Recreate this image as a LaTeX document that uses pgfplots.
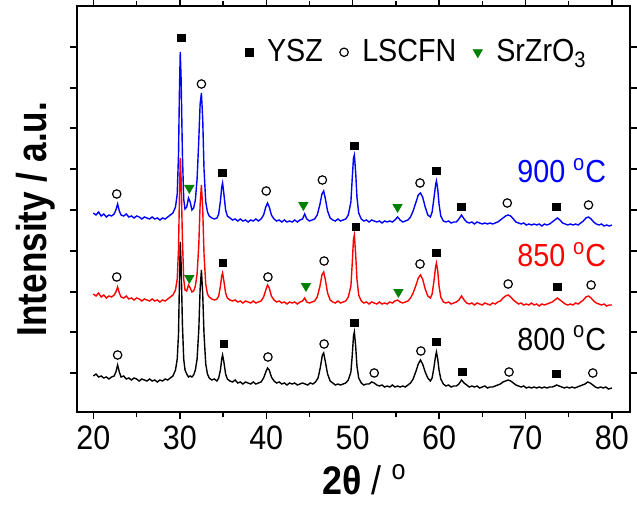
\documentclass[border=0pt]{standalone}
\usepackage{fontspec}
\setmainfont[FakeStretch=0.9]{Liberation Sans}
\newfontfamily\ylfont[FakeStretch=0.84]{Liberation Sans}
\usepackage{pgfplots}
\pgfplotsset{compat=1.18}
\definecolor{mygreen}{RGB}{0,128,0}
\begin{document}
\begin{tikzpicture}
\begin{axis}[
 width=276.5bp, height=203bp, scale only axis,
 xmin=18.1, xmax=82.1, ymin=2, ymax=408,
 xtick={20,30,...,80}, minor xtick={25,35,...,75},
 ytick={41,82,122,163,204,245,286,326,367}, yticklabels={},
 tick align=outside, major tick length=3.5bp, minor tick length=2.5bp,
 axis line style={line width=1bp},
 every tick/.style={black, line width=0.7bp},
 ticklabel style={font=\fontsize{17}{20}\selectfont},
 /pgf/number format/assume math mode=true,
 xlabel={\fontsize{20}{24}\selectfont\textbf{2θ} / \textsuperscript{o}},
 xlabel style={at={(axis description cs:0.52,0)}, anchor=base, yshift=-41bp},
 ylabel={\ylfont\fontsize{21}{24}\selectfont\bfseries Intensity / a.u.},
 ylabel style={at={(axis description cs:0,0.475)}, anchor=base, yshift=15bp},
 legend style={font=\fontsize{16}{19}\selectfont, draw=none, fill=none, legend columns=3,
   at={(0.304,0.886)}, anchor=west, inner sep=0pt,
   /tikz/every odd column/.append style={column sep=5bp},
   /tikz/every even column/.append style={column sep=6.5bp}},
 legend image code/.code={\draw[#1] plot coordinates {(0bp,0bp)};},
]
% 800 C
\addplot[black, line width=0.7bp, forget plot] coordinates {
(20.0,38)(20.3,40)(20.6,37)(20.9,38)(21.2,36)(21.5,37)(21.8,35)(22.1,37)(22.4,38)(22.6,42)(22.8,49)(23.0,42)(23.2,37)(23.5,38)(23.8,35)(24.1,36)(24.4,34)(24.7,36)(25.0,35)(25.3,33)(25.6,35)(25.9,34)(26.2,33)(26.5,35)(26.8,33)(27.1,34)(27.4,32)(27.7,34)(28.0,33)(28.3,35)(28.6,34)(28.9,36)(29.2,38)(29.5,44)(29.7,55)(29.85,80)(29.95,130)(30.05,172)(30.15,150)(30.3,90)(30.45,55)(30.6,44)(30.8,40)(31.0,37)(31.2,38)(31.4,37)(31.6,39)(31.8,44)(32.0,55)(32.2,85)(32.35,125)(32.5,144)(32.65,120)(32.8,80)(33.0,50)(33.2,40)(33.4,36)(33.7,34)(34.0,35)(34.3,33)(34.5,36)(34.7,44)(34.85,55)(34.95,59)(35.1,52)(35.3,40)(35.5,35)(35.8,33)(36.1,32)(36.4,34)(36.7,31)(37.0,32)(37.3,30)(37.6,32)(37.9,31)(38.2,30)(38.5,32)(38.8,30)(39.1,31)(39.4,32)(39.7,36)(39.95,42)(40.15,46)(40.35,44)(40.6,37)(40.9,33)(41.2,31)(41.5,32)(41.8,30)(42.1,31)(42.4,29)(42.7,31)(43.0,30)(43.3,31)(43.6,29)(43.9,30)(44.2,31)(44.5,30)(44.8,29)(45.1,31)(45.4,30)(45.7,32)(46.0,36)(46.25,46)(46.5,59)(46.65,61)(46.85,52)(47.1,40)(47.4,33)(47.7,31)(48.0,29)(48.3,30)(48.6,29)(48.9,30)(49.2,31)(49.5,34)(49.8,42)(49.95,58)(50.1,78)(50.2,82)(50.35,68)(50.5,48)(50.7,36)(51.0,31)(51.3,29)(51.6,30)(51.9,30)(52.2,32)(52.5,31)(52.8,29)(53.1,28)(53.4,29)(53.7,27)(54.0,28)(54.3,27)(54.6,29)(54.9,27)(55.2,28)(55.5,27)(55.8,28)(56.1,27)(56.4,29)(56.7,31)(57.0,35)(57.3,42)(57.6,50)(57.85,54)(58.1,50)(58.4,42)(58.7,36)(59.0,33)(59.2,36)(59.4,46)(59.6,58)(59.7,62)(59.85,55)(60.0,44)(60.2,35)(60.5,30)(60.8,28)(61.1,29)(61.4,27)(61.7,28)(62.0,28)(62.3,30)(62.6,34)(62.9,31)(63.2,29)(63.5,27)(63.8,28)(64.1,27)(64.4,28)(64.7,26)(65.0,27)(65.3,28)(65.6,26)(65.9,27)(66.2,27)(66.5,28)(66.8,29)(67.1,30)(67.4,32)(67.7,33)(68.0,34)(68.3,33)(68.6,31)(68.9,29)(69.2,28)(69.5,27)(69.8,28)(70.1,26)(70.4,27)(70.7,26)(71.0,27)(71.3,26)(71.6,27)(71.9,26)(72.2,27)(72.5,26)(72.8,27)(73.1,27)(73.4,28)(73.6,29)(73.9,28)(74.2,27)(74.5,26)(74.8,27)(75.1,26)(75.4,27)(75.7,26)(76.0,27)(76.3,28)(76.6,29)(76.9,30)(77.2,32)(77.5,31)(77.8,29)(78.1,27)(78.4,26)(78.7,27)(79.0,26)(79.3,27)(79.6,25)(80.0,26)
};
% 850 C
\addplot[red, line width=0.7bp, forget plot] coordinates {
(20.0,120)(20.3,118)(20.6,121)(20.9,117)(21.2,119)(21.5,116)(21.8,118)(22.1,117)(22.4,119)(22.6,122)(22.8,127)(23.0,121)(23.2,117)(23.5,116)(23.8,118)(24.1,115)(24.4,116)(24.7,114)(25.0,116)(25.3,115)(25.6,113)(25.9,115)(26.2,114)(26.5,113)(26.8,115)(27.1,113)(27.4,114)(27.7,112)(28.0,114)(28.3,113)(28.6,115)(28.9,117)(29.2,119)(29.5,124)(29.7,135)(29.85,165)(29.95,215)(30.05,256)(30.15,235)(30.3,175)(30.45,135)(30.6,124)(30.8,123)(31.0,129)(31.2,126)(31.4,122)(31.6,123)(31.8,128)(32.0,140)(32.2,170)(32.35,210)(32.5,229)(32.65,205)(32.8,160)(33.0,130)(33.2,120)(33.4,117)(33.7,115)(34.0,114)(34.3,115)(34.5,118)(34.7,128)(34.85,138)(34.95,141)(35.1,133)(35.3,121)(35.5,116)(35.8,114)(36.1,113)(36.4,114)(36.7,112)(37.0,113)(37.3,111)(37.6,113)(37.9,112)(38.2,111)(38.5,113)(38.8,111)(39.1,112)(39.4,113)(39.7,117)(39.95,124)(40.15,129)(40.35,126)(40.6,118)(40.9,114)(41.2,112)(41.5,113)(41.8,111)(42.1,112)(42.4,110)(42.7,112)(43.0,111)(43.3,112)(43.6,110)(43.9,112)(44.2,113)(44.45,116)(44.7,112)(45.0,111)(45.3,112)(45.6,113)(45.9,117)(46.2,127)(46.45,139)(46.65,142)(46.85,134)(47.1,121)(47.4,114)(47.7,112)(48.0,111)(48.3,113)(48.6,111)(48.9,112)(49.2,113)(49.5,117)(49.8,128)(49.95,150)(50.1,175)(50.2,179)(50.35,160)(50.5,135)(50.7,119)(51.0,113)(51.3,111)(51.6,112)(51.9,110)(52.2,112)(52.5,111)(52.8,110)(53.1,112)(53.4,110)(53.7,111)(54.0,110)(54.3,112)(54.6,111)(54.9,113)(55.2,114)(55.5,112)(55.8,111)(56.1,112)(56.4,113)(56.7,116)(57.0,121)(57.3,128)(57.6,136)(57.85,139)(58.1,135)(58.4,125)(58.7,118)(59.0,116)(59.2,120)(59.4,132)(59.6,147)(59.7,151)(59.85,143)(60.0,128)(60.2,117)(60.5,112)(60.8,111)(61.1,112)(61.4,110)(61.7,111)(62.0,112)(62.3,114)(62.6,118)(62.9,114)(63.2,111)(63.5,110)(63.8,111)(64.1,109)(64.4,111)(64.7,110)(65.0,109)(65.3,111)(65.6,110)(65.9,109)(66.2,111)(66.5,110)(66.8,112)(67.1,113)(67.4,116)(67.7,118)(68.0,119)(68.3,117)(68.6,114)(68.9,112)(69.2,110)(69.5,111)(69.8,109)(70.1,110)(70.4,109)(70.7,111)(71.0,109)(71.3,110)(71.6,108)(71.9,110)(72.2,109)(72.5,110)(72.8,111)(73.1,112)(73.4,114)(73.7,116)(74.0,114)(74.3,112)(74.6,110)(74.9,109)(75.2,110)(75.5,109)(75.8,111)(76.1,110)(76.4,112)(76.7,114)(77.0,117)(77.3,118)(77.6,116)(77.9,113)(78.2,111)(78.5,110)(78.8,109)(79.1,110)(79.4,108)(79.7,109)(80.0,109)
};
% 900 C
\addplot[blue, line width=0.7bp, forget plot] coordinates {
(20.0,201)(20.3,199)(20.6,202)(20.9,198)(21.2,200)(21.5,197)(21.8,199)(22.1,198)(22.4,200)(22.6,204)(22.8,210)(23.0,203)(23.2,199)(23.5,198)(23.8,200)(24.1,197)(24.4,198)(24.7,196)(25.0,198)(25.3,197)(25.6,195)(25.9,197)(26.2,196)(26.5,195)(26.8,197)(27.1,195)(27.4,196)(27.7,194)(28.0,196)(28.3,195)(28.6,197)(28.9,199)(29.2,201)(29.5,207)(29.7,220)(29.85,260)(29.95,320)(30.05,362)(30.15,335)(30.3,260)(30.45,215)(30.6,205)(30.8,207)(31.0,216)(31.2,212)(31.4,204)(31.6,206)(31.8,214)(32.0,235)(32.2,275)(32.35,310)(32.5,321)(32.65,295)(32.8,245)(33.0,212)(33.2,202)(33.4,198)(33.7,196)(34.0,195)(34.3,196)(34.5,200)(34.7,213)(34.85,227)(34.95,231)(35.1,220)(35.3,204)(35.5,198)(35.8,196)(36.1,194)(36.4,195)(36.7,193)(37.0,195)(37.3,193)(37.6,194)(37.9,192)(38.2,194)(38.5,193)(38.8,195)(39.1,193)(39.4,195)(39.7,199)(39.95,207)(40.15,211)(40.35,207)(40.6,199)(40.9,195)(41.2,193)(41.5,194)(41.8,192)(42.1,194)(42.4,192)(42.7,193)(43.0,192)(43.3,194)(43.6,192)(43.9,194)(44.2,195)(44.45,200)(44.7,195)(45.0,193)(45.3,194)(45.6,195)(45.9,199)(46.2,209)(46.45,220)(46.65,223)(46.85,215)(47.1,203)(47.4,196)(47.7,194)(48.0,193)(48.3,195)(48.6,193)(48.9,194)(49.2,195)(49.5,199)(49.8,212)(49.95,235)(50.1,256)(50.2,259)(50.35,242)(50.5,217)(50.7,201)(51.0,195)(51.3,193)(51.6,194)(51.9,192)(52.2,194)(52.5,193)(52.8,192)(53.1,193)(53.4,191)(53.7,193)(54.0,192)(54.3,193)(54.6,192)(54.9,194)(55.2,197)(55.5,194)(55.8,192)(56.1,193)(56.4,194)(56.7,197)(57.0,203)(57.3,211)(57.6,219)(57.85,221)(58.1,217)(58.4,207)(58.7,199)(59.0,197)(59.2,202)(59.4,215)(59.6,229)(59.7,233)(59.85,225)(60.0,210)(60.2,198)(60.5,193)(60.8,192)(61.1,193)(61.4,191)(61.7,192)(62.0,192)(62.3,195)(62.6,199)(62.9,195)(63.2,192)(63.5,191)(63.8,192)(64.1,190)(64.4,192)(64.7,191)(65.0,190)(65.3,191)(65.6,190)(65.9,191)(66.2,190)(66.5,191)(66.8,192)(67.1,194)(67.4,196)(67.7,198)(68.0,199)(68.3,198)(68.6,195)(68.9,192)(69.2,191)(69.5,190)(69.8,191)(70.1,189)(70.4,190)(70.7,189)(71.0,190)(71.3,189)(71.6,190)(71.9,188)(72.2,190)(72.5,189)(72.8,190)(73.1,192)(73.4,194)(73.7,196)(74.0,194)(74.3,191)(74.6,190)(74.9,189)(75.2,190)(75.5,189)(75.8,190)(76.1,189)(76.4,191)(76.7,193)(77.0,196)(77.3,197)(77.6,195)(77.9,192)(78.2,190)(78.5,189)(78.8,190)(79.1,188)(79.4,189)(79.7,188)(80.0,189)
};
% YSZ markers
\addplot[only marks, mark=square*, mark size=1.9bp, black] coordinates {
(30.15,376)(34.9,241)(50.2,268)(59.7,243)(62.6,207)(73.6,207)
(35.0,151)(50.4,187)(59.7,161)(73.7,127)
(35.1,70)(50.2,91)(59.7,72)(62.7,42)(73.6,40)
};
\addlegendentry{YSZ}
% LSCFN markers
\addplot[only marks, mark=o, mark size=2.1bp, black, mark options={line width=0.6bp}] coordinates {
(22.7,220)(32.5,330)(40.0,223)(46.5,234)(57.8,231)(67.9,211)(77.3,209)
(22.7,137)(40.2,137)(46.7,153)(57.8,150)(68.0,130)(77.6,129)
(22.8,59)(40.2,57)(46.7,70)(52.5,41)(57.9,63)(68.1,42)(77.8,41)
};
\addlegendentry{LSCFN}
% SrZrO3 markers
\addplot[only marks, mark=triangle*, mark size=2.6bp, mygreen, mark options={rotate=180}] coordinates {
(31.1,226)(44.3,209)(55.2,207)
(31.1,136)(44.6,128)(55.3,122)
};
\addlegendentry{SrZrO\textsubscript{3}}
\node[anchor=base east, text=blue, font=\fontsize{16}{19}\selectfont] at (axis cs:80.15,231) {900 \textsuperscript{o}C};
\node[anchor=base east, text=red, font=\fontsize{16}{19}\selectfont] at (axis cs:80.15,147) {850 \textsuperscript{o}C};
\node[anchor=base east, text=black, font=\fontsize{16}{19}\selectfont] at (axis cs:80.15,64) {800 \textsuperscript{o}C};
\end{axis}
\pgfresetboundingbox
\path (current axis.south west) ++(-38.5bp,-47.5bp) rectangle ++(318.5bp,253.5bp);
\end{tikzpicture}
\end{document}
